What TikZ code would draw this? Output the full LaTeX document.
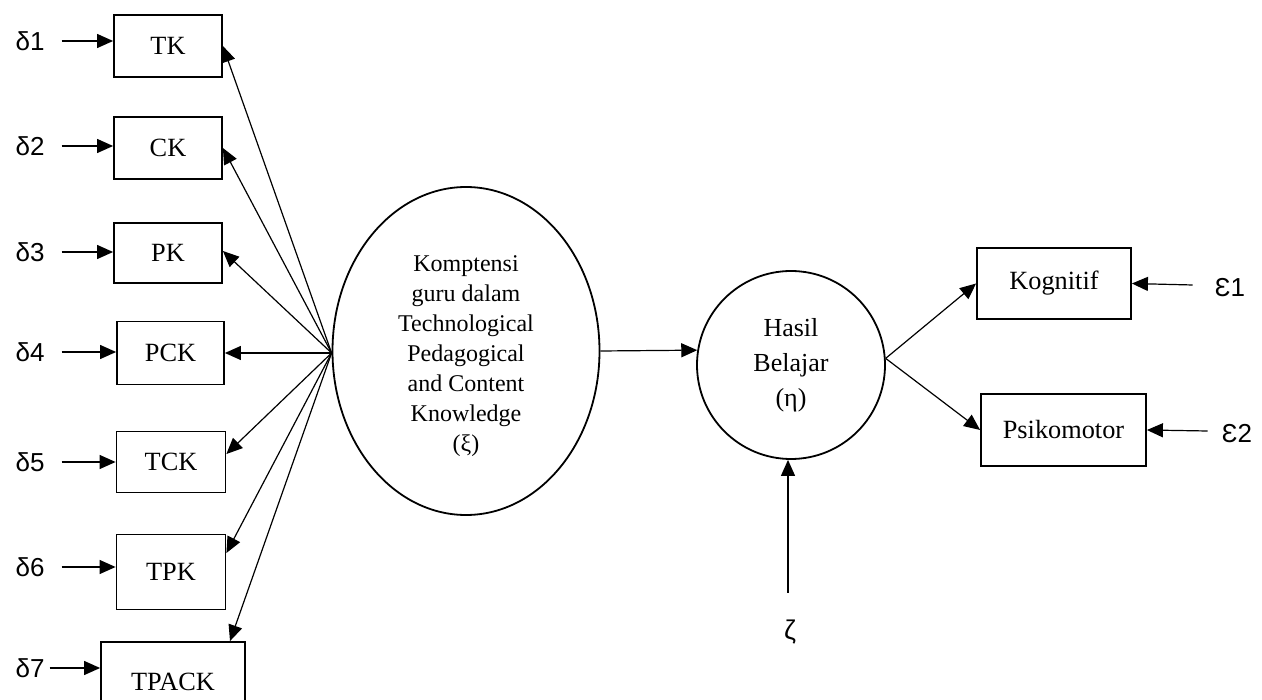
\documentclass[tikz,border=0pt]{standalone}
\usepackage{fontspec}
\setmainfont{Liberation Serif}
\newfontfamily\sansf{Liberation Sans}
\usetikzlibrary{arrows.meta,shapes.geometric}
\begin{document}
\begin{tikzpicture}[x=1pt,y=-1pt,
  box/.style={draw,line width=1.8pt,inner sep=0pt,font=\fontsize{26.3}{30}\selectfont},
  arr/.style={line width=1.2pt,-{Triangle[length=16pt,width=14pt]}},
  err/.style={font=\sansf\fontsize{26}{28}\selectfont,inner sep=0pt}]
\useasboundingbox (0,0) rectangle (1262,700);
% indicator boxes
\node[box,minimum width=108pt,minimum height=62pt] (TK) at (168,46) {TK};
\node[box,minimum width=108pt,minimum height=62pt] (CK) at (168,148) {CK};
\node[box,minimum width=108pt,minimum height=60pt] (PK) at (168,253) {PK};
\node[box,minimum width=107pt,minimum height=63pt] (PCK) at (170.5,353) {PCK};
\node[box,minimum width=109pt,minimum height=61pt] (TCK) at (171,462) {TCK};
\node[box,minimum width=109pt,minimum height=75pt] (TPK) at (171,572) {TPK};
\node[box,minimum width=144pt,minimum height=80pt] (TPACK) at (173,682) {TPACK};
% errors
\node[err] (d1) at (30,41) {δ1};
\node[err] (d2) at (30,146) {δ2};
\node[err] (d3) at (30,252) {δ3};
\node[err] (d4) at (30,352) {δ4};
\node[err] (d5) at (30,462) {δ5};
\node[err] (d6) at (30,567) {δ6};
\node[err] (d7) at (30,668) {δ7};
\draw[arr] ([xshift=17pt]d1.east) -- (TK.west |- d1.east);
\draw[arr] ([xshift=17pt]d2.east) -- (CK.west |- d2.east);
\draw[arr] ([xshift=17pt]d3.east) -- (PK.west |- d3.east);
\draw[arr] ([xshift=17pt]d4.east) -- (PCK.west |- d4.east);
\draw[arr] ([xshift=17pt]d5.east) -- (TCK.west |- d5.east);
\draw[arr] ([xshift=17pt]d6.east) -- (TPK.west |- d6.east);
\draw[arr] ([xshift=5pt]d7.east) -- (TPACK.west |- d7.east);
% latent exogenous
\node[draw,ellipse,line width=1.8pt,minimum width=267pt,minimum height=328pt,inner sep=0pt,
  align=center,font=\fontsize{24}{30}\selectfont] (E) at (466,351)
  {\\[-4pt]Komptensi\\guru dalam\\Technological\\Pedagogical\\and Content\\Knowledge\\(ξ)};
\draw[arr] ([yshift=-2pt]E.west) -- (TK.east);
\draw[arr] ([yshift=-2pt]E.west) -- (CK.east);
\draw[arr] ([yshift=-2pt]E.west) -- ([yshift=2pt]PK.east);
\draw[arr] ([yshift=-2pt]E.west) -- (PCK.east);
\draw[arr] ([yshift=-2pt]E.west) -- ([yshift=8pt]TCK.east);
\draw[arr] ([yshift=-2pt]E.west) -- ([yshift=19pt]TPK.east);
\draw[arr] ([yshift=-2pt]E.west) -- ([xshift=57pt]TPACK.north);
% latent endogenous
\node[draw,circle,line width=1.8pt,minimum size=188pt,inner sep=0pt,align=center,
  font=\fontsize{26}{35}\selectfont] (H) at (791,365) {Hasil\\Belajar\\(η)};
\draw[arr] (E.east) -- (H.171);
\node[font=\sansf\fontsize{27}{28}\selectfont,inner sep=0pt] (z) at (790,632) {ζ};
\draw[arr] ([xshift=-2pt,yshift=27pt]z.north) -- ([xshift=-3pt]H.south);
% outcomes
\node[box,minimum width=154pt,minimum height=71pt] (K) at (1054,283.5) {Kognitif};
\node[box,minimum width=165pt,minimum height=72pt] (P) at (1063.5,430) {Psikomotor};
\draw[arr] (H.4) -- (K.west);
\draw[arr] (H.4) -- (P.west);
\node[err] (e1) at (1230,288) {Ɛ1};
\node[err] (e2) at (1237,434) {Ɛ2};
\draw[arr] ([xshift=-22pt,yshift=3pt]e1.west) -- (K.east);
\draw[arr] ([xshift=-14pt,yshift=3pt]e2.west) -- (P.east);
\end{tikzpicture}
\end{document}
